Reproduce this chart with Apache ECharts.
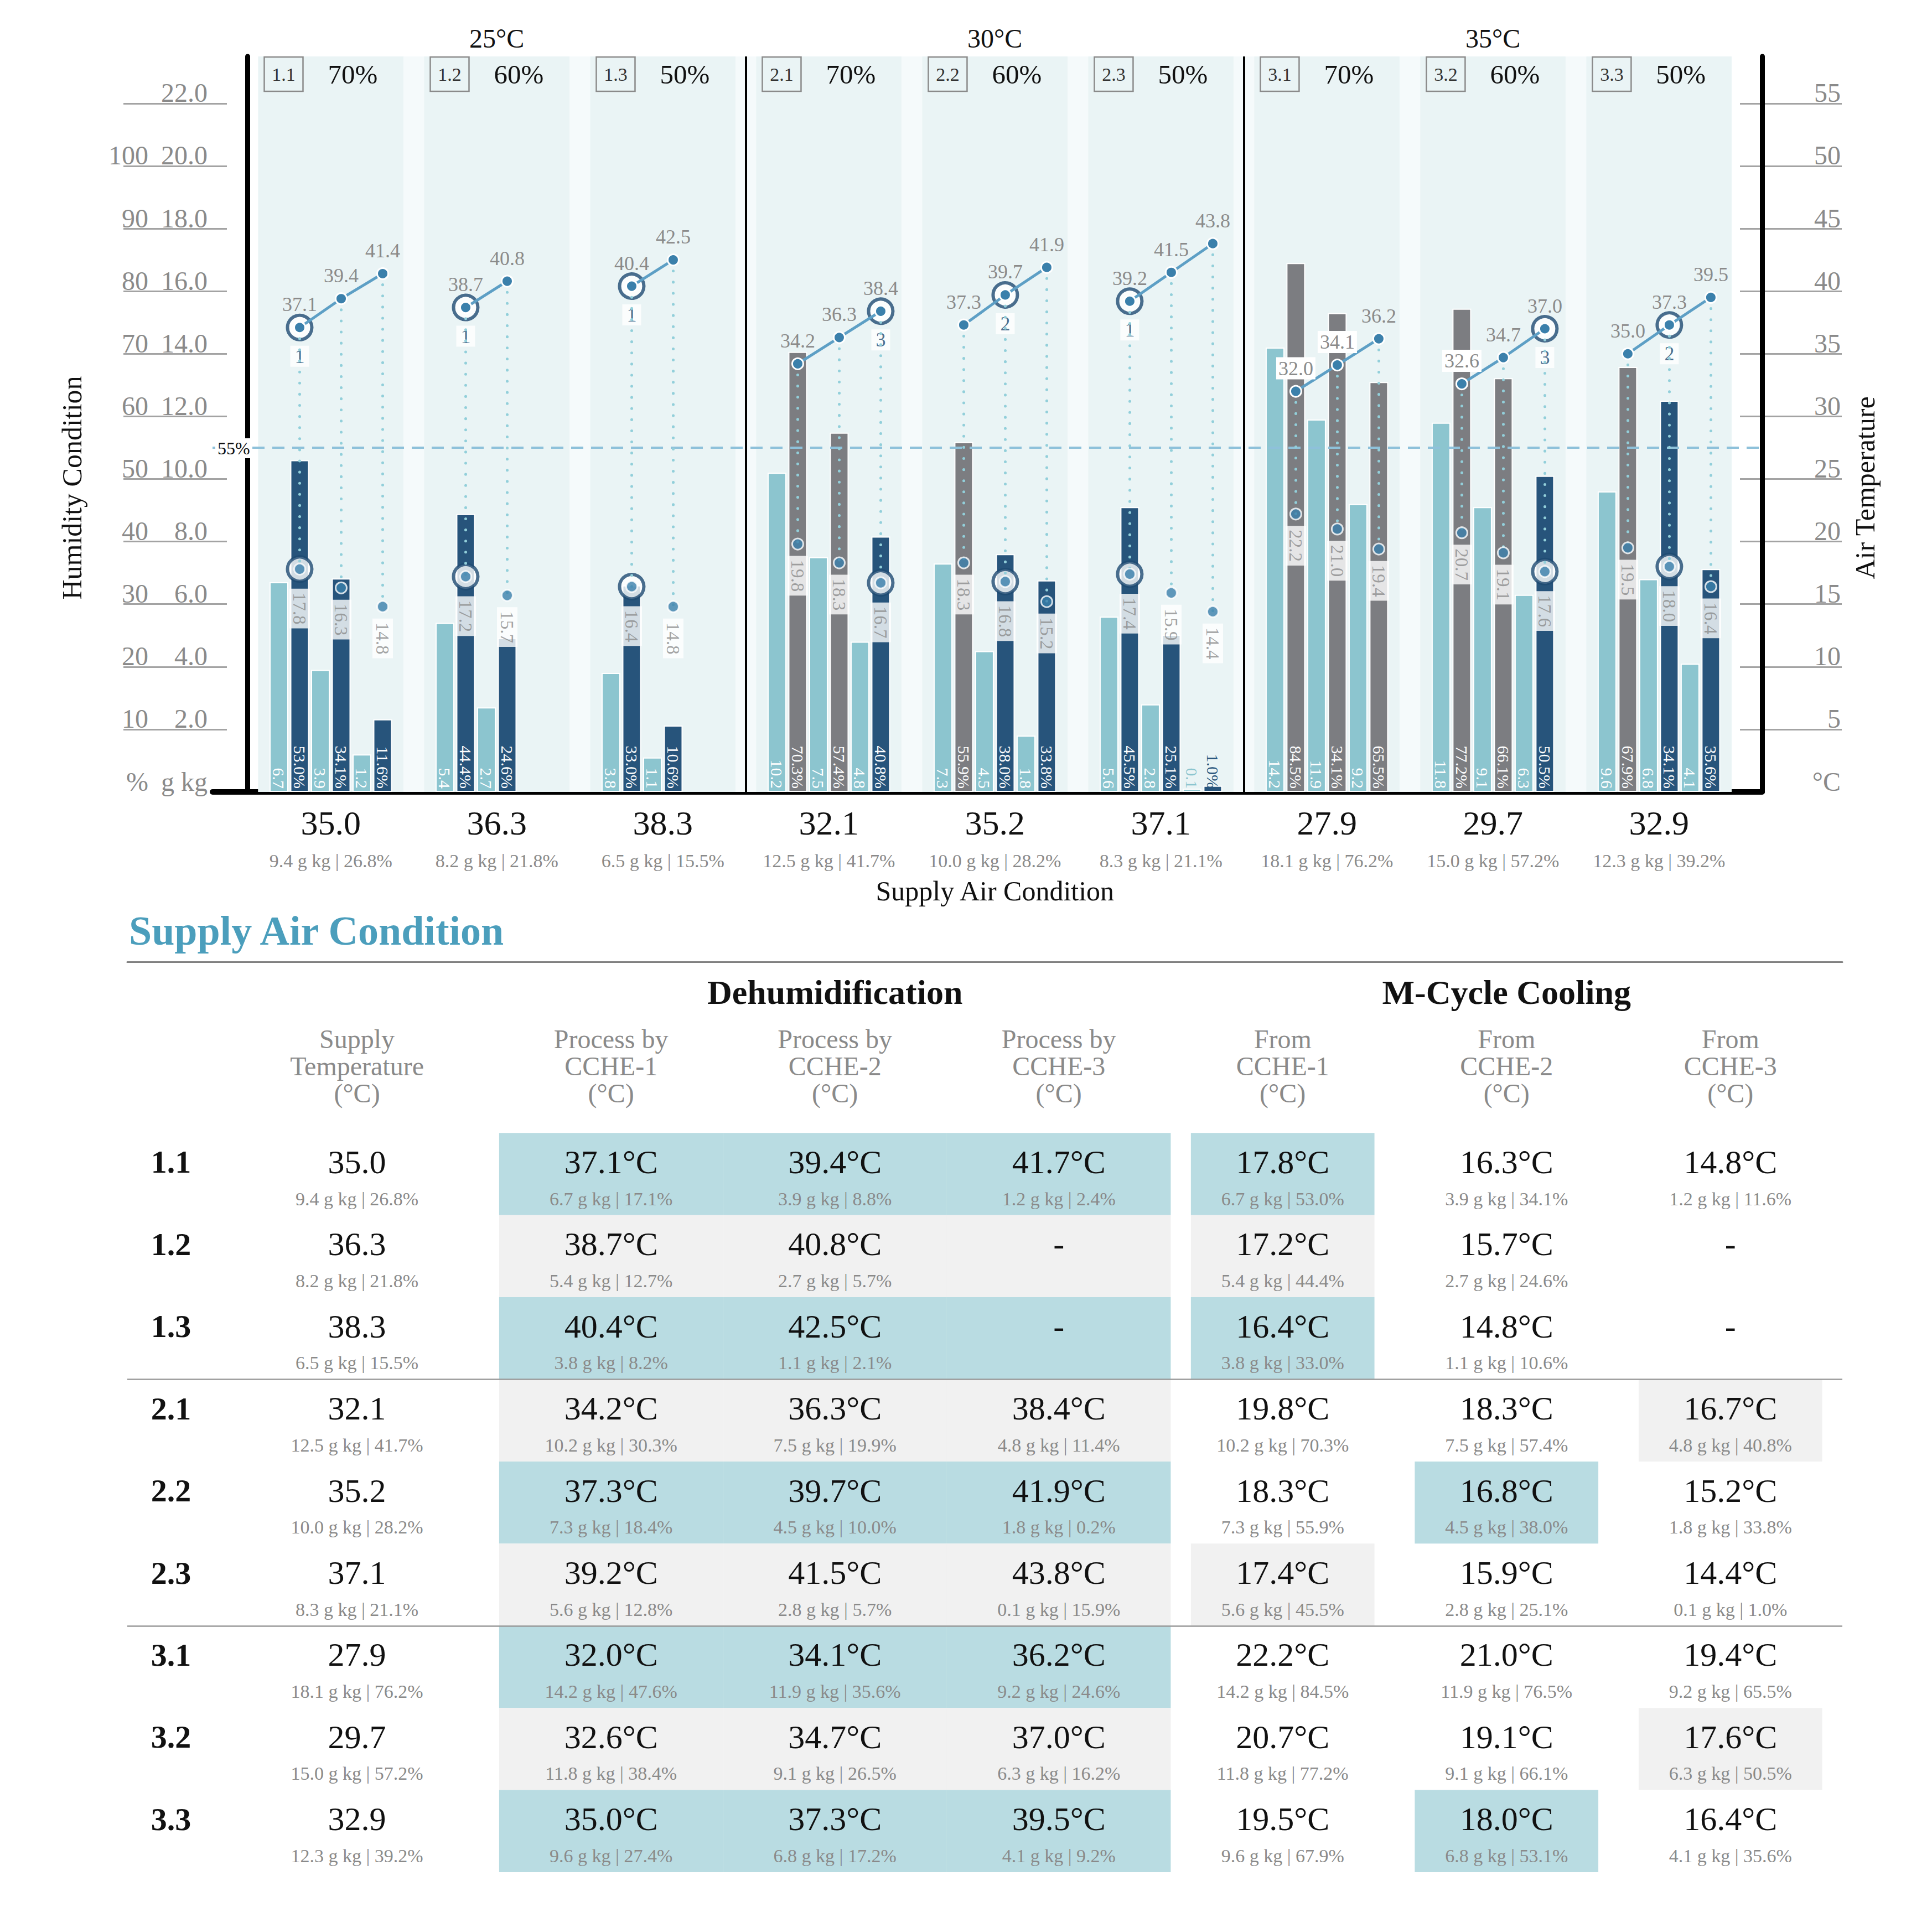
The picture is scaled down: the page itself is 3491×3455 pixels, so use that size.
<!DOCTYPE html>
<html>
<head>
<meta charset="utf-8">
<script src="https://cdn.jsdelivr.net/npm/echarts@6/dist/echarts.min.js"></script>
<style>
html,body{margin:0;padding:0;background:#fff;}
#chart{width:3491px;height:3455px;}
</style>
</head>
<body>
<div id="chart"></div>
<script>
// ---------------- DATA ----------------
const groups = ['1.1','1.2','1.3','2.1','2.2','2.3','3.1','3.2','3.3'];
const inletRH = ['70%','60%','50%'];
const ambientT = ['25°C','30°C','35°C'];
const supplyT = [35.0,36.3,38.3,32.1,35.2,37.1,27.9,29.7,32.9];
const supplyHum = [9.4,8.2,6.5,12.5,10.0,8.3,18.1,15.0,12.3];
const supplyRH = [26.8,21.8,15.5,41.7,28.2,21.1,76.2,57.2,39.2];
// process air temperature after each CCHE (chart)
const processT = [[37.1,39.4,41.4],[38.7,40.8,null],[40.4,42.5,null],[34.2,36.3,38.4],[37.3,39.7,41.9],[39.2,41.5,43.8],[32.0,34.1,36.2],[32.6,34.7,37.0],[35.0,37.3,39.5]];
// process air temperature as printed in the table
const processTTable = [[37.1,39.4,41.7],[38.7,40.8,null],[40.4,42.5,null],[34.2,36.3,38.4],[37.3,39.7,41.9],[39.2,41.5,43.8],[32.0,34.1,36.2],[32.6,34.7,37.0],[35.0,37.3,39.5]];
const processHum = [[6.7,3.9,1.2],[5.4,2.7,null],[3.8,1.1,null],[10.2,7.5,4.8],[7.3,4.5,1.8],[5.6,2.8,0.1],[14.2,11.9,9.2],[11.8,9.1,6.3],[9.6,6.8,4.1]];
const processRH = [[17.1,8.8,2.4],[12.7,5.7,null],[8.2,2.1,null],[30.3,19.9,11.4],[18.4,10.0,0.2],[12.8,5.7,15.9],[47.6,35.6,24.6],[38.4,26.5,16.2],[27.4,17.2,9.2]];
const mcycleT = [[17.8,16.3,14.8],[17.2,15.7,null],[16.4,14.8,null],[19.8,18.3,16.7],[18.3,16.8,15.2],[17.4,15.9,14.4],[22.2,21.0,19.4],[20.7,19.1,17.6],[19.5,18.0,16.4]];
const mcycleRH = [[53.0,34.1,11.6],[44.4,24.6,null],[33.0,10.6,null],[70.3,57.4,40.8],[55.9,38.0,33.8],[45.5,25.1,1.0],[84.5,76.5,65.5],[77.2,66.1,50.5],[67.9,53.1,35.6]];
// RH bars as drawn in the chart and their printed labels
const rhBarValue = [[53.0,34.1,11.6],[44.4,24.6,null],[33.0,10.6,null],[70.3,57.4,40.8],[55.9,38.0,33.8],[45.5,25.1,1.0],[84.5,76.5,65.5],[77.2,66.1,50.5],[67.9,62.5,35.6]];
const rhBarText = [['53.0%','34.1%','11.6%'],['44.4%','24.6%',null],['33.0%','10.6%',null],['70.3%','57.4%','40.8%'],['55.9%','38.0%','33.8%'],['45.5%','25.1%','1.0%'],['84.5%','34.1%','65.5%'],['77.2%','66.1%','50.5%'],['67.9%','34.1%','35.6%']];
const selectedStage = [1,1,1,3,2,1,0,3,2];
const rhLimit = 55;
const colHeaders = [['Supply','Temperature','(°C)'],['Process by','CCHE-1','(°C)'],['Process by','CCHE-2','(°C)'],['Process by','CCHE-3','(°C)'],['From','CCHE-1','(°C)'],['From','CCHE-2','(°C)'],['From','CCHE-3','(°C)']];
const sectionHeaders = ['Dehumidification','M-Cycle Cooling'];

// ---------------- STYLE ----------------
const FONT = '"Liberation Serif","DejaVu Serif",serif';
const TEAL = '#8cc5cf', NAVY = '#27547b', GRAY = '#7c7d81';
const BAND = '#eaf4f5', PALE = '#f5fafb';
const LINE = '#5d9fc5', DOT = '#3b80ab', RING = '#1e4a72', LGRAY = '#8a8a8a', DOTTED = '#92cfda';
const HL_TEAL = '#b9dce2', HL_GRAY = '#f1f1f1';
const BLACK = '#111';

// slot layout on the x value axis (8 slots per condition)
const SLOT = 8;
const xHum = (g,k) => SLOT*g + 1.5 + 2*k;
const xRH  = (g,k) => SLOT*g + 2.5 + 2*k;

// ---------------- BUILD SERIES DATA ----------------
const humBars = [], rhBars = [], rhLabels = [], procLine = [], mcPts = [], rings = [], links = [];
groups.forEach((name, g) => {
  for (let k = 0; k < 3; k++) {
    if (processHum[g][k] == null) continue;
    const hum = processHum[g][k];
    humBars.push({value:[xHum(g,k), hum], label:{color: hum < 0.5 ? TEAL : '#fff'}});
    const rhColor = mcycleRH[g][k] <= rhLimit ? NAVY : GRAY;
    rhBars.push({value:[xRH(g,k), rhBarValue[g][k]], itemStyle:{color: rhColor}, label:{color: rhBarValue[g][k] < 3 ? rhColor : '#fff'}});
    rhLabels.push(rhBarText[g][k]);
    const x = xRH(g,k), pT = processT[g][k], mT = mcycleT[g][k];
    const sel = selectedStage[g] === k + 1;
    const item = {value:[x, pT]};
    if (rhBarValue[g][k] / 2 > pT + 1.5) item.label = {backgroundColor:'#fff'};
    procLine.push(item);
    mcPts.push({value:[x, mT], label:{distance: sel ? 24 : 10}});
    if (sel) {
      rings.push({value:[x, pT], label:{show:true, formatter:String(k+1)}});
      rings.push({value:[x, mT]});
    }
    links.push([{coord:[x, pT]}, {coord:[x, mT]}]);
  }
  procLine.push({value:[SLOT*g + 7.6, '-']});
});

const areas = [[{xAxis:0.5, itemStyle:{color:PALE}}, {xAxis:71.5}]];
groups.forEach((name, g) => {
  areas.push([{xAxis: SLOT*g + 0.5, itemStyle:{color:BAND},
    label:{show:true, position:'insideTopLeft', distance:1, offset:[10,0],
      formatter:'{box|' + name + '}{pct|' + inletRH[g % 3] + '}',
      rich:{
        box:{width:70, height:62, lineHeight:62, align:'center', verticalAlign:'middle', borderColor:'#8a8a8a', borderWidth:2.5, fontSize:34, color:'#333', fontFamily:FONT},
        pct:{fontSize:49, color:BLACK, padding:[0,0,0,45], lineHeight:62, fontFamily:FONT}
      }}},
    {xAxis: SLOT*g + 7.5}]);
});
ambientT.forEach((t, i) => {
  areas.push([{xAxis: 24*i, itemStyle:{color:'rgba(0,0,0,0)'},
    label:{show:true, position:'top', distance:9, formatter:t, fontSize:48, color:BLACK, fontFamily:FONT}},
    {xAxis: 24*i + 24}]);
});

// ---------------- TABLE CELLS ----------------
const COL_LABEL = 0.034, COL_SUPPLY = 0.865;
const ROW_MAIN = -0.145, ROW_SUB = 0.30;
const mainLine = t => ({text:t, dy:ROW_MAIN, size:60, color:BLACK});
const subLine = t => ({text:t, dy:ROW_SUB, size:34, color:LGRAY});
const tableCells = [];
const colHeaderX = [COL_SUPPLY, 2, 3, 4, 5, 6, 7];
colHeaders.forEach((h, i) => tableCells.push({x:colHeaderX[i], y:-1.317, lines:[{text:h.join('\n'), dy:0, size:48, color:LGRAY, lh:49}]}));
tableCells.push({x:3, y:-2.214, lines:[{text:sectionHeaders[0], dy:0, size:62, bold:true, color:BLACK}]});
tableCells.push({x:6, y:-2.214, lines:[{text:sectionHeaders[1], dy:0, size:62, bold:true, color:BLACK}]});
groups.forEach((name, r) => {
  const rowFill = r % 2 === 0 ? HL_TEAL : HL_GRAY;
  tableCells.push({x:COL_LABEL, y:r, lines:[{text:name, dy:ROW_MAIN, size:58, bold:true, color:BLACK}]});
  tableCells.push({x:COL_SUPPLY, y:r, lines:[mainLine(supplyT[r].toFixed(1)), subLine(supplyHum[r].toFixed(1) + ' g kg | ' + supplyRH[r].toFixed(1) + '%')]});
  for (let k = 0; k < 3; k++) {
    const t = processTTable[r][k];
    tableCells.push({x:2+k, y:r, fill:rowFill, w:1,
      lines: t == null ? [mainLine('-')] : [mainLine(t.toFixed(1) + '°C'), subLine(processHum[r][k].toFixed(1) + ' g kg | ' + processRH[r][k].toFixed(1) + '%')]});
  }
  for (let k = 0; k < 3; k++) {
    const t = mcycleT[r][k];
    tableCells.push({x:5+k, y:r, fill: selectedStage[r] === k+1 ? rowFill : null, w:0.82,
      lines: t == null ? [mainLine('-')] : [mainLine(t.toFixed(1) + '°C'), subLine(processHum[r][k].toFixed(1) + ' g kg | ' + mcycleRH[r][k].toFixed(1) + '%')]});
  }
});

function renderCell(params, api) {
  const c = tableCells[params.dataIndex];
  const p = api.coord([api.value(0), api.value(1)]);
  const unit = api.size([1, 1]);
  const kids = [];
  if (c.fill) {
    const w = unit[0] * c.w, h = unit[1];
    kids.push({type:'rect', shape:{x:p[0]-w/2, y:p[1]-h/2, width:w, height:h}, style:{fill:c.fill}});
  }
  c.lines.forEach(l => kids.push({type:'text', x:p[0], y:p[1] + l.dy*unit[1],
    style:{text:l.text, fontFamily:FONT, fontSize:l.size, fontWeight:l.bold ? 'bold' : 'normal', fill:l.color,
      align:'center', verticalAlign:'middle', lineHeight:l.lh || l.size}}));
  return {type:'group', children:kids};
}

// ---------------- AXES HELPERS ----------------
const tickLabel = {fontSize:48, color:LGRAY, verticalAlign:'bottom', lineHeight:38, fontFamily:FONT};
const hidden = {axisLine:{show:false}, axisTick:{show:false}, axisLabel:{show:false}, splitLine:{show:false}};
const tickLines = {axisLine:{show:false}, axisTick:{show:false}, axisLabel:{show:false},
  splitLine:{show:true, showMinLine:false, showMaxLine:false, lineStyle:{color:'#a3a3a3', width:3}}};
const gridBase = {containLabel:false, outerBoundsMode:'none'};

const option = {
  backgroundColor:'#fff',
  animation:false,
  textStyle:{fontFamily:FONT},
  title:[{text:'Supply Air Condition', left:233, top:1645, padding:0,
    textStyle:{fontFamily:FONT, fontSize:74, fontWeight:'bold', color:'#4b9ebc'}}],
  grid:[
    Object.assign({left:384, top:102, width:2800, height:1329}, gridBase),
    Object.assign({left:223, top:102, width:187, height:1329}, gridBase),
    Object.assign({left:3144, top:102, width:184, height:1329}, gridBase),
    Object.assign({left:447.75, top:102, width:2700, height:1329}, gridBase),
    Object.assign({left:230, top:1738, width:3099, height:1645}, gridBase)
  ],
  xAxis:[
    {gridIndex:0, type:'value', min:-1.7, max:72.97, axisLine:{show:true, onZero:false, lineStyle:{color:'#000', width:10}}, axisTick:{show:false}, axisLabel:{show:false}, splitLine:{show:false}},
    Object.assign({gridIndex:1, type:'value', min:0, max:1}, hidden),
    Object.assign({gridIndex:2, type:'value', min:0, max:1}, hidden),
    {gridIndex:3, type:'category', data:groups, axisLine:{show:false}, axisTick:{show:false}, splitLine:{show:false},
      axisLabel:{interval:0, margin:24, fontFamily:FONT,
        formatter:(v, i) => '{a|' + supplyT[i].toFixed(1) + '}\n{b|' + supplyHum[i].toFixed(1) + ' g kg | ' + supplyRH[i].toFixed(1) + '%}',
        rich:{a:{fontSize:62, lineHeight:64, color:BLACK, fontFamily:FONT}, b:{fontSize:34, lineHeight:72, color:LGRAY, fontFamily:FONT}}},
      name:'Supply Air Condition', nameLocation:'middle', nameGap:154,
      nameTextStyle:{fontSize:50, color:BLACK, fontFamily:FONT, lineHeight:50}},
    {gridIndex:4, type:'value', min:-0.161, max:7.5, position:'top', axisLine:{show:true, onZero:false, lineStyle:{color:'#808080', width:3}}, axisTick:{show:false}, axisLabel:{show:false}, splitLine:{show:false}}
  ],
  yAxis:[
    {gridIndex:0, type:'value', min:0, max:23.5, interval:2, position:'left',
      axisLine:{show:true, lineStyle:{color:'#000', width:9}}, axisTick:{show:false}, splitLine:{show:false},
      axisLabel:Object.assign({margin:9, formatter:v => v === 0 ? 'g kg' : (v <= 22 && v % 2 === 0 ? v.toFixed(1) : '')}, tickLabel),
      name:'Humidity Condition', nameLocation:'middle', nameGap:229, nameRotate:90,
      nameTextStyle:{fontSize:50, color:BLACK, fontFamily:FONT, padding:[0,230,0,0]}},
    {gridIndex:0, type:'value', min:0, max:117.5, interval:10, position:'left',
      axisLine:{show:false}, axisTick:{show:false}, splitLine:{show:false},
      axisLabel:Object.assign({margin:116, formatter:v => v === 0 ? '%' : (v <= 100 && v % 10 === 0 ? String(v) : '')}, tickLabel)},
    {gridIndex:0, type:'value', min:0, max:58.75, interval:5, position:'right',
      axisLine:{show:true, lineStyle:{color:'#000', width:9}}, axisTick:{show:false}, splitLine:{show:false},
      axisLabel:Object.assign({margin:142, align:'right', formatter:v => v === 0 ? '°C' : (v <= 55 && v % 5 === 0 ? String(v) : '')}, tickLabel),
      name:'Air Temperature', nameLocation:'middle', nameGap:161, nameRotate:90,
      nameTextStyle:{fontSize:50, color:BLACK, fontFamily:FONT, padding:[0,230,0,0]}},
    Object.assign({gridIndex:1, type:'value', min:0, max:23.5, interval:2}, tickLines),
    Object.assign({gridIndex:2, type:'value', min:0, max:23.5, interval:2}, tickLines),
    Object.assign({gridIndex:3, type:'value', min:0, max:1}, hidden),
    Object.assign({gridIndex:4, type:'value', min:-2.584, max:8.5, inverse:true}, hidden)
  ],
  series:[
    {type:'line', name:'bands', xAxisIndex:0, yAxisIndex:0, data:[], z:1, silent:true,
      markArea:{silent:true, data:areas}},
    {type:'line', name:'separators', xAxisIndex:0, yAxisIndex:0, data:[], z:1, silent:true,
      markLine:{silent:true, symbol:['none','none'], label:{show:false}, lineStyle:{color:'#000', width:4, type:'solid'},
        data:[{xAxis:24},{xAxis:48}]}},
    {type:'bar', name:'Process humidity', xAxisIndex:0, yAxisIndex:0, barWidth:34, barGap:'-100%', z:2, silent:true,
      data:humBars, itemStyle:{color:TEAL, borderColor:'#fff', borderWidth:2},
      label:{show:true, position:'insideBottom', distance:6, rotate:-90, align:'right', verticalAlign:'middle',
        fontSize:30, fontFamily:FONT, formatter:p => p.value[1].toFixed(1)}},
    {type:'bar', name:'M-cycle RH', xAxisIndex:0, yAxisIndex:1, barWidth:34, barGap:'-100%', z:2, silent:true,
      data:rhBars, itemStyle:{borderColor:'#fff', borderWidth:2},
      label:{show:true, position:'insideBottom', distance:6, rotate:-90, align:'right', verticalAlign:'middle',
        fontSize:30, fontFamily:FONT, formatter:p => rhLabels[p.dataIndex]},
      markLine:{silent:true, symbol:['none','none'],
        data:[{yAxis:rhLimit, lineStyle:{color:'#8ec1da', width:4, type:[22,14]},
          label:{show:true, position:'insideStartTop', formatter:rhLimit + '%', color:BLACK, fontSize:32, fontFamily:FONT,
            backgroundColor:'#fff', padding:[2,4], offset:[0,24]}}]}},
    {type:'line', name:'links', xAxisIndex:0, yAxisIndex:2, data:[], z:3, silent:true,
      markLine:{silent:true, symbol:['none','none'], label:{show:false},
        lineStyle:{color:DOTTED, width:5, type:[0.1,20], cap:'round'}, data:links}},
    {type:'scatter', name:'selected', xAxisIndex:0, yAxisIndex:2, z:4, silent:true, data:rings,
      symbol:'circle', symbolSize:44, itemStyle:{color:'#fff', borderColor:RING, borderWidth:6},
      label:{show:false, position:'bottom', distance:8, color:RING, fontSize:36, fontFamily:FONT, backgroundColor:'#fff', padding:[1,8]}},
    {type:'line', name:'Process temperature', xAxisIndex:0, yAxisIndex:2, z:5, silent:true, data:procLine,
      connectNulls:false, symbol:'circle', symbolSize:20, showSymbol:true,
      lineStyle:{color:LINE, width:5}, itemStyle:{color:DOT, borderColor:'#fff', borderWidth:3},
      label:{show:true, position:'top', distance:10, fontSize:36, color:LGRAY, fontFamily:FONT, padding:[2,4],
        formatter:p => p.value[1].toFixed(1)}},
    {type:'scatter', name:'M-cycle temperature', xAxisIndex:0, yAxisIndex:2, z:5, silent:true, data:mcPts,
      symbol:'circle', symbolSize:20, itemStyle:{color:DOT, borderColor:'#fff', borderWidth:3},
      label:{show:true, position:'bottom', distance:10, rotate:-90, align:'left', verticalAlign:'middle',
        fontSize:33, color:LGRAY, fontFamily:FONT, backgroundColor:'#fff', padding:[2,7,2,7],
        formatter:p => p.value[1].toFixed(1)}},
    {type:'custom', name:'table', xAxisIndex:4, yAxisIndex:6, z:2, silent:true,
      renderItem:renderCell, data:tableCells.map(c => [c.x, c.y])},
    {type:'line', name:'table rules', xAxisIndex:4, yAxisIndex:6, data:[], z:5, silent:true,
      markLine:{silent:true, symbol:['none','none'], label:{show:false}, lineStyle:{color:'#9a9a9a', width:2.5, type:'solid'},
        data:[{yAxis:2.5},{yAxis:5.5}]}}
  ]
};

const chart = echarts.init(document.getElementById('chart'), null, {renderer:'svg'});
chart.setOption(option);
</script>
</body>
</html>
